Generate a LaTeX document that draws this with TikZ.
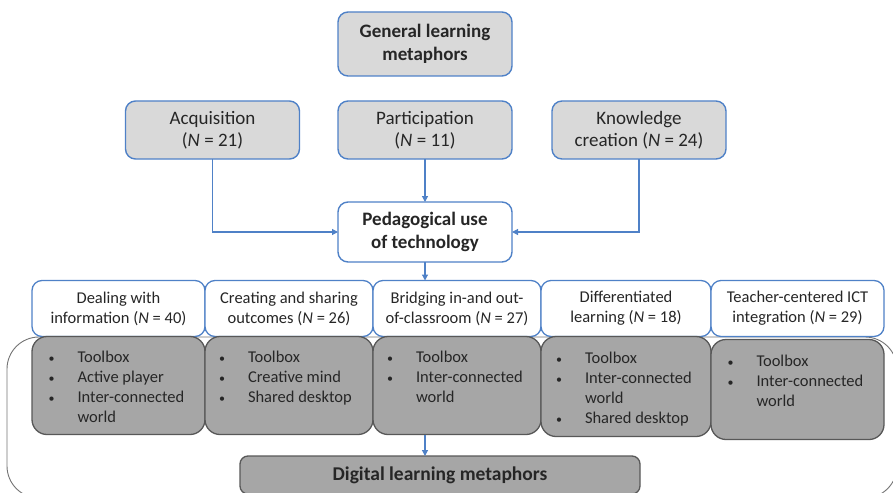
\documentclass[tikz,border=0pt]{standalone}
\usepackage{fontspec}
\setmainfont{Carlito}
\usetikzlibrary{arrows.meta,positioning}
\definecolor{boxblue}{RGB}{79,129,199}
\definecolor{lightfill}{RGB}{217,217,217}
\definecolor{darkfill}{RGB}{166,166,166}
\definecolor{darkline}{RGB}{88,88,88}
\newcommand{\Nis}[1]{(\textit{N} = #1)}
\newcommand{\bul}{\makebox[29pt][l]{\hspace{0pt}{\fontsize{12}{12}\selectfont\textbullet}}}
\newcommand{\metalist}[1]{\parbox[c][76pt][t]{140pt}{\vspace*{4pt}#1}}
\tikzset{headbox/.style={
    % The shape:
    rectangle,rounded corners=10pt,
    % The size:
    minimum width=174pt,
    minimum height=58pt,
    inner sep=0pt, outer sep=0pt,
    % The border:
    draw=boxblue, line width=1.4pt,
    % The filling:
    fill=lightfill,
    % Font
    align=center, text=black!85,
    font=\fontsize{19}{22.5}\selectfont
    },
    usebox/.style={
    headbox,
    fill=white,
    font=\fontsize{19}{22.5}\selectfont\bfseries,
    },
    catbox/.style={
    rectangle,rounded corners=10pt,
    minimum height=56pt,
    inner sep=0pt, outer sep=0pt,
    draw=boxblue, line width=1.3pt,
    fill=white,
    align=center, text=black!85,
    font=\fontsize{16.5}{20}\selectfont,
    },
    metabox/.style={
    rectangle,rounded corners=15pt,
    minimum height=98pt,
    inner sep=0pt, outer sep=0pt,
    draw=darkline, line width=1.3pt,
    fill=darkfill,
    text=black!85,
    font=\fontsize{16.5}{20}\selectfont,
    },
    flow/.style={
    draw=boxblue, line width=1.2pt,
    -{Triangle[length=6pt,width=6pt]},
    },
    frame/.style={
    draw=black!55, line width=0.9pt,
    rounded corners=32pt,
    },
}

\begin{document}
\begin{tikzpicture}[x=1pt,y=-1pt]
    \useasboundingbox (0,0) rectangle (893,492);
    \draw[frame] (7,337) rectangle (897,498);

    \node (gen) [usebox,fill=lightfill,minimum height=64pt] at (425,44) {General learning\\metaphors};
    \node (acq) [headbox] at (212.5,130) {Acquisition\\\Nis{21}};
    \node (par) [headbox] at (425,130)   {Participation\\\Nis{11}};
    \node (kno) [headbox] at (639,130)   {Knowledge\\creation \Nis{24}};
    \node (ped) [usebox,minimum height=60pt] at (425,232) {Pedagogical use\\of technology};

    \node (c1) [catbox,minimum width=173pt] at (118.5,308.5) {Dealing with\\information \Nis{40}};
    \node (c2) [catbox,minimum width=168pt,right=0pt of c1] {Creating and sharing\\outcomes \Nis{26}};
    \node (c3) [catbox,minimum width=168pt,right=0pt of c2] {Bridging in-and out-\\of-classroom \Nis{27}};
    \node (c4) [catbox,minimum width=170pt,right=0pt of c3] {Differentiated\\learning \Nis{18}};
    \node (c5) [catbox,minimum width=173pt,right=0pt of c4] {Teacher-centered ICT\\integration \Nis{29}};

    \node (g1) [metabox,minimum width=173pt,below=0pt of c1]
        {\metalist{\bul Toolbox\\\bul Active player\\\bul Inter-connected\\\hspace*{29pt}world}};
    \node (g2) [metabox,minimum width=168pt,below=0pt of c2]
        {\metalist{\bul Toolbox\\\bul Creative mind\\\bul Shared desktop}};
    \node (g3) [metabox,minimum width=168pt,below=0pt of c3]
        {\metalist{\bul Toolbox\\\bul Inter-connected\\\hspace*{29pt}world}};
    \node (g4) [metabox,minimum width=170pt,minimum height=100pt,below=0pt of c4]
        {\metalist{\bul Toolbox\\\bul Inter-connected\\\hspace*{29pt}world\\\bul Shared desktop}};
    \node (g5) [metabox,minimum width=173pt,minimum height=100pt,below=3pt of c5]
        {\metalist{\bul Toolbox\\\bul Inter-connected\\\hspace*{29pt}world}};

    \node (dig) [metabox,minimum width=400pt,minimum height=38pt,rounded corners=8pt,
        font=\fontsize{19.5}{22}\selectfont\bfseries] at (440,475) {Digital learning metaphors};

    \draw[flow] (acq.south) |- (ped.west);
    \draw[flow] (par.south) -- (ped.north);
    \draw[flow] (kno.south) |- (ped.east);
    \draw[flow] (ped.south) -- (ped.south |- c3.north);
    \draw[flow] (ped.south |- g3.south) -- (ped.south |- dig.north);
\end{tikzpicture}
\end{document}
